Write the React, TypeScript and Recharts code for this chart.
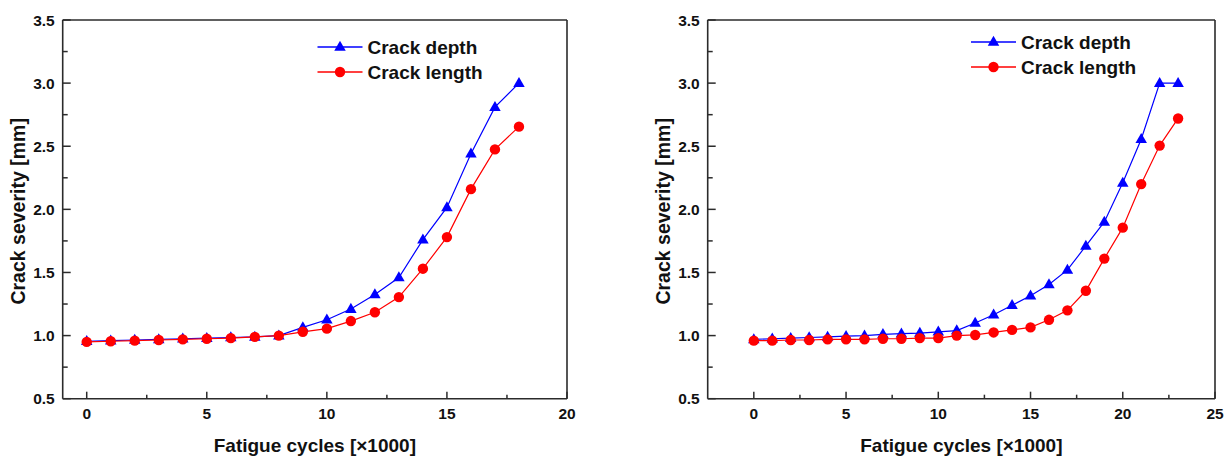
import React from "react"
import { LineChart, Line, XAxis, YAxis, ReferenceLine } from "recharts"

const leftCycles = [0, 1, 2, 3, 4, 5, 6, 7, 8, 9, 10, 11, 12, 13, 14, 15, 16, 17, 18]
const leftDepth = [0.955, 0.96, 0.965, 0.97, 0.975, 0.98, 0.985, 0.99, 1.0, 1.065, 1.125, 1.21, 1.325, 1.46, 1.76, 2.015, 2.44, 2.81, 3.0]
const leftLength = [0.95, 0.955, 0.96, 0.965, 0.97, 0.975, 0.98, 0.99, 1.0, 1.03, 1.055, 1.115, 1.185, 1.305, 1.53, 1.78, 2.16, 2.475, 2.655]

const rightCycles = [0, 1, 2, 3, 4, 5, 6, 7, 8, 9, 10, 11, 12, 13, 14, 15, 16, 17, 18, 19, 20, 21, 22, 23]
const rightDepth = [0.97, 0.975, 0.98, 0.985, 0.99, 0.995, 1.0, 1.01, 1.015, 1.02, 1.03, 1.04, 1.1, 1.165, 1.24, 1.315, 1.405, 1.52, 1.71, 1.9, 2.21, 2.555, 3.0, 3.0]
const rightLength = [0.96, 0.96, 0.965, 0.965, 0.97, 0.97, 0.97, 0.975, 0.975, 0.98, 0.98, 1.0, 1.005, 1.025, 1.045, 1.065, 1.125, 1.2, 1.355, 1.61, 1.855, 2.2, 2.505, 2.72]

const yTicks = [0.5, 0.75, 1, 1.25, 1.5, 1.75, 2, 2.25, 2.5, 2.75, 3, 3.25, 3.5]
const leftXTicks = [0, 2.5, 5, 7.5, 10, 12.5, 15, 17.5, 20]
const rightXTicks = [0, 2.5, 5, 7.5, 10, 12.5, 15, 17.5, 20, 22.5, 25]

const seriesNames = ["Crack depth", "Crack length"]
const xTitle = "Fatigue cycles [\u00d71000]"
const yTitle = "Crack severity [mm]"

const FONT = "'Liberation Sans', Arial, sans-serif"
const AXIS = "#2b2b2b"
const BLUE = "#0000ff"
const RED = "#ff0000"

const isMajor = (v: number, step: number) => Math.abs(v / step - Math.round(v / step)) < 1e-6

const fmtY = (v: number) => v.toFixed(1)

function YTick(props: any) {
  const { x, y, payload } = props
  const v = payload.value
  const major = isMajor(v, 0.5)
  return (
    <g>
      <line x1={x} y1={y} x2={x + (major ? 8 : 5)} y2={y} stroke={AXIS} strokeWidth={1.5} />
      {major && (
        <text x={x - 8} y={y} dy={5.5} textAnchor="end" fontFamily={FONT} fontWeight="bold" fontSize={15.5} fill="#111">
          {fmtY(v)}
        </text>
      )}
    </g>
  )
}

function XTick(props: any) {
  const { x, y, payload } = props
  const v = payload.value
  const major = isMajor(v, 5)
  return (
    <g>
      <line x1={x} y1={y} x2={x} y2={y - (major ? 7 : 4)} stroke={AXIS} strokeWidth={1.5} />
      {major && (
        <text x={x} y={y + 20} textAnchor="middle" fontFamily={FONT} fontWeight="bold" fontSize={15.5} fill="#111">
          {v}
        </text>
      )}
    </g>
  )
}

function triangleDot(props: any) {
  const { cx, cy, index } = props
  if (cx == null || cy == null) return <g key={index} />
  const s = 11.5
  const h = s * 0.87
  return (
    <path
      key={index}
      d={`M${cx},${cy - h * 0.62} L${cx + s / 2},${cy + h * 0.38} L${cx - s / 2},${cy + h * 0.38} Z`}
      fill={BLUE}
    />
  )
}

function circleDot(props: any) {
  const { cx, cy, index } = props
  if (cx == null || cy == null) return <g key={index} />
  return <circle key={index} cx={cx} cy={cy} r={5.2} fill={RED} />
}

type PanelProps = {
  left: number
  width: number
  margin: { top: number; right: number; bottom: number; left: number }
  cycles: number[]
  depth: number[]
  length: number[]
  xDomain: [number, number]
  xTicks: number[]
  yTitleX: number
  legend: { x: number; y: number }
}

const Y_AXIS_W = 40
const X_AXIS_H = 30

function Panel(p: PanelProps) {
  const data = p.cycles.map((c, i) => ({ x: c, depth: p.depth[i], length: p.length[i] }))
  const height = 459
  const plotLeft = p.margin.left
  const plotRight = p.width - p.margin.right
  const plotTop = p.margin.top
  const plotBottom = height - p.margin.bottom
  const cx = (plotLeft + plotRight) / 2
  const cy = (plotTop + plotBottom) / 2 + 2
  const chartMargin = {
    top: p.margin.top,
    right: p.margin.right,
    bottom: p.margin.bottom - X_AXIS_H,
    left: p.margin.left - Y_AXIS_W,
  }
  return (
    <div style={{ position: "absolute", left: p.left, top: 0, width: p.width, height }}>
      <LineChart width={p.width} height={height} data={data} margin={chartMargin}>
        <XAxis
          type="number"
          dataKey="x"
          domain={p.xDomain}
          ticks={p.xTicks}
          interval={0}
          height={X_AXIS_H}
          tickSize={0}
          tickMargin={0}
          tick={<XTick />}
          axisLine={{ stroke: AXIS, strokeWidth: 1.6 }}
          allowDataOverflow
        />
        <YAxis
          type="number"
          domain={[0.5, 3.5]}
          ticks={yTicks}
          interval={0}
          width={Y_AXIS_W}
          tickSize={0}
          tickMargin={0}
          tick={<YTick />}
          axisLine={{ stroke: AXIS, strokeWidth: 1.6 }}
          allowDataOverflow
        />
        <ReferenceLine y={3.5} stroke={AXIS} strokeWidth={1.6} />
        <ReferenceLine x={p.xDomain[1]} stroke={AXIS} strokeWidth={1.6} />
        <Line
          dataKey="depth"
          name={seriesNames[0]}
          stroke={BLUE}
          strokeWidth={1.2}
          dot={triangleDot}
          activeDot={false}
          isAnimationActive={false}
        />
        <Line
          dataKey="length"
          name={seriesNames[1]}
          stroke={RED}
          strokeWidth={1.2}
          dot={circleDot}
          activeDot={false}
          isAnimationActive={false}
        />
        <text x={cx} y={445} dy={6.5} textAnchor="middle" fontFamily={FONT} fontWeight="bold" fontSize={19} fill="#111">
          {xTitle}
        </text>
        <text
          x={p.yTitleX}
          y={cy}
          dy={6.5}
          textAnchor="middle"
          transform={`rotate(-90 ${p.yTitleX} ${cy})`}
          fontFamily={FONT}
          fontWeight="bold"
          fontSize={19.5}
          fill="#111"
        >
          {yTitle}
        </text>
        <g>
          {seriesNames.map((name, i) => {
            const ly = p.legend.y + i * 25
            const lx = p.legend.x
            return (
              <g key={name}>
                <line x1={lx} y1={ly} x2={lx + 45} y2={ly} stroke={i === 0 ? BLUE : RED} strokeWidth={1.3} />
                {i === 0 ? triangleDot({ cx: lx + 22.5, cy: ly, index: "l" + i }) : circleDot({ cx: lx + 22.5, cy: ly, index: "l" + i })}
                <text x={lx + 50} y={ly} dy={6.5} fontFamily={FONT} fontWeight="bold" fontSize={19} fill="#111">
                  {name}
                </text>
              </g>
            )
          })}
        </g>
      </LineChart>
    </div>
  )
}

export default function App() {
  return (
    <div style={{ position: "absolute", left: 0, top: 0, width: 1231, height: 459, background: "#fff", overflow: "hidden" }}>
      <Panel
        left={0}
        width={620}
        margin={{ top: 20, right: 53, bottom: 60.3, left: 62.7 }}
        cycles={leftCycles}
        depth={leftDepth}
        length={leftLength}
        xDomain={[-1, 20]}
        xTicks={leftXTicks}
        yTitleX={18.3}
        legend={{ x: 317.5, y: 47 }}
      />
      <Panel
        left={640}
        width={591}
        margin={{ top: 20, right: 16, bottom: 60.3, left: 67.7 }}
        cycles={rightCycles}
        depth={rightDepth}
        length={rightLength}
        xDomain={[-2.5, 25]}
        xTicks={rightXTicks}
        yTitleX={23.3}
        legend={{ x: 331, y: 42 }}
      />
    </div>
  )
}
